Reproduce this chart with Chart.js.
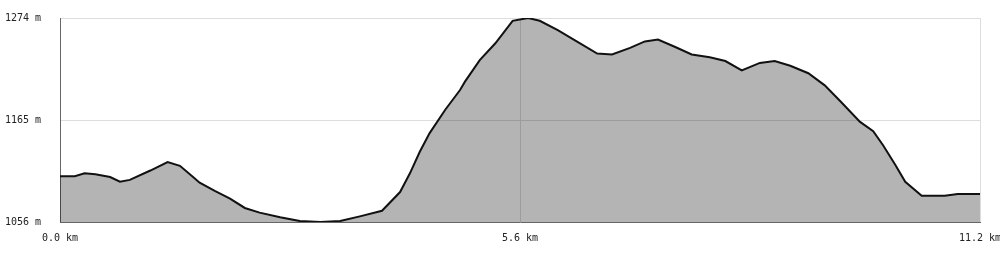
<!DOCTYPE html>
<html>
<head>
<meta charset="utf-8">
<script src="https://cdn.jsdelivr.net/npm/chart.js@4/dist/chart.umd.min.js"></script>
<style>
  html, body { margin: 0; padding: 0; background: #fff; }
  #wrap { width: 1000px; height: 260px; }
</style>
</head>
<body>
<div id="wrap"><canvas id="profile"></canvas></div>
<script>
// distance along the track (km) and elevation (m)
const distance = [0.00, 0.18, 0.30, 0.43, 0.61, 0.73, 0.85, 1.10, 1.31, 1.46, 1.62, 1.70, 1.89, 2.07, 2.25, 2.43, 2.68, 2.92, 3.17, 3.41, 3.65, 3.92, 4.14, 4.26, 4.38, 4.50, 4.69, 4.87, 4.93, 5.11, 5.30, 5.51, 5.70, 5.84, 6.06, 6.29, 6.54, 6.72, 6.94, 7.12, 7.28, 7.49, 7.69, 7.91, 8.10, 8.30, 8.52, 8.70, 8.89, 9.11, 9.31, 9.50, 9.74, 9.90, 10.02, 10.17, 10.29, 10.49, 10.77, 10.93, 11.20];
const elevation = [1105, 1105, 1108, 1107, 1104, 1099, 1101, 1111, 1120, 1116, 1104, 1098, 1089, 1081, 1071, 1066, 1061, 1057, 1056, 1057, 1062, 1068, 1088, 1108, 1131, 1151, 1176, 1197, 1206, 1229, 1247, 1271, 1274, 1271, 1261, 1249, 1236, 1235, 1242, 1249, 1251, 1243, 1235, 1232, 1228, 1218, 1226, 1228, 1223, 1215, 1202, 1185, 1163, 1153, 1138, 1117, 1099, 1084, 1084, 1086, 1086];
const xTicks = [0, 5.6, 11.2];
const yTicks = [1056, 1165, 1274];

const points = distance.map((d, i) => ({x: d, y: elevation[i]}));
const font = {family: 'DejaVu Sans Mono', size: 10};

new Chart(document.getElementById('profile'), {
  type: 'line',
  data: {
    datasets: [{
      data: points,
      borderColor: '#111',
      borderWidth: 2,
      backgroundColor: 'rgba(0,0,0,0.294)',
      fill: 'start',
      pointRadius: 0,
      tension: 0
    }]
  },
  options: {
    responsive: true,
    maintainAspectRatio: false,
    animation: false,
    layout: {padding: {left: 5, top: 18, right: 0, bottom: 0}},
    plugins: {legend: {display: false}, tooltip: {enabled: false}},
    scales: {
      x: {
        type: 'linear',
        min: 0,
        max: 11.2,
        afterBuildTicks: (s) => { s.ticks = xTicks.map(v => ({value: v})); },
        afterFit: (s) => { s.height = 38; s.paddingRight = 20; s.paddingLeft = 0; },
        grid: {color: '#ddd', drawTicks: false},
        border: {color: '#666'},
        ticks: {
          font: font, color: '#222', padding: 10, maxRotation: 0,
          callback: (v) => v.toFixed(1) + ' km'
        }
      },
      y: {
        min: 1056,
        max: 1274,
        afterBuildTicks: (s) => { s.ticks = yTicks.map(v => ({value: v})); },
        afterFit: (s) => { s.width = 55; },
        grid: {color: '#ddd', drawTicks: false},
        border: {color: '#666'},
        ticks: {
          font: font, color: '#222', crossAlign: 'far', padding: 4,
          callback: (v) => v + ' m'
        }
      }
    }
  }
});
</script>
</body>
</html>
